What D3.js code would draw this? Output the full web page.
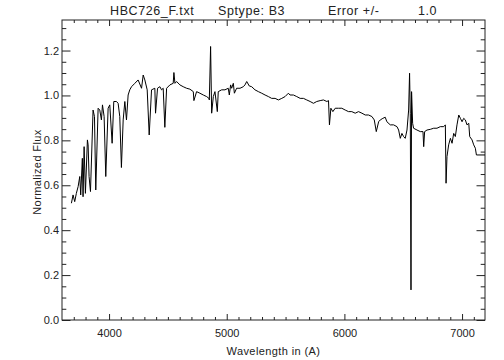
<!DOCTYPE html>
<html>
<head>
<meta charset="utf-8">
<script src="https://cdn.jsdelivr.net/npm/d3@7"></script>
<style>
  body { margin: 0; background: #fff; }
  text { font-family: "Liberation Sans", Arial, sans-serif; fill: #222; }
</style>
</head>
<body>
<div id="chart"></div>
<script>
// spectrum: wavelength (A) and normalized flux
const wavelength = [
  3680, 3694, 3708, 3722, 3737, 3751, 3759, 3773, 3779, 3788, 3799, 3816, 3822, 3830, 3842,
  3864, 3876, 3887, 3907, 3921, 3935, 3944, 3958, 3972, 3992, 4006, 4026, 4040, 4063, 4077,
  4091, 4105, 4120, 4134, 4148, 4162, 4176, 4191, 4219, 4247, 4276, 4290, 4304, 4324, 4341,
  4361, 4389, 4395, 4412, 4432, 4446, 4460, 4474, 4489, 4517, 4545, 4551, 4560, 4574, 4602,
  4630, 4659, 4687, 4716, 4721, 4744, 4772, 4801, 4829, 4849, 4852, 4863, 4872, 4886, 4900,
  4920, 4928, 4957, 4985, 5013, 5022, 5033, 5042, 5056, 5065, 5084, 5113, 5141, 5155, 5170,
  5192, 5212, 5240, 5269, 5297, 5326, 5354, 5382, 5411, 5439, 5468, 5496, 5524, 5538, 5567,
  5595, 5624, 5652, 5680, 5709, 5737, 5765, 5794, 5822, 5851, 5865, 5873, 5885, 5902, 5922,
  5950, 5978, 6007, 6035, 6063, 6092, 6120, 6149, 6177, 6205, 6234, 6254, 6271, 6291, 6305,
  6327, 6347, 6361, 6390, 6418, 6447, 6461, 6475, 6489, 6503, 6517, 6532, 6546, 6554, 6560,
  6566, 6571, 6580, 6588, 6617, 6645, 6668, 6674, 6682, 6702, 6730, 6759, 6787, 6815, 6844,
  6858, 6864, 6872, 6886, 6901, 6915, 6929, 6943, 6957, 6972, 6986, 7000, 7014, 7028, 7042,
  7057, 7065, 7085, 7099, 7113, 7122, 7195
];
const flux = [
  0.520, 0.557, 0.527, 0.564, 0.594, 0.639, 0.557, 0.720, 0.549, 0.772, 0.564, 0.802, 0.780, 0.639, 0.572,
  0.935, 0.906, 0.579, 0.943, 0.935, 0.891, 0.958, 0.906, 0.639, 0.943, 0.958, 0.787, 0.973, 0.973, 0.965,
  0.906, 0.679, 0.891, 0.973, 0.891, 1.002, 1.025, 1.039, 1.054, 1.069, 1.032, 1.091, 1.069, 1.025, 0.824,
  1.025, 1.032, 0.921, 1.032, 1.039, 1.025, 1.032, 0.858, 1.032, 1.047, 1.054, 1.102, 1.054, 1.062, 1.047,
  1.039, 1.032, 1.028, 1.017, 0.977, 1.017, 1.010, 1.002, 0.995, 0.987, 0.980, 1.218, 0.921, 0.995, 1.017,
  0.928, 1.017, 1.025, 1.025, 1.032, 1.002, 1.047, 1.032, 1.054, 1.010, 1.032, 1.032, 1.039, 1.047, 1.062,
  1.042, 1.039, 1.025, 1.017, 1.010, 1.002, 0.995, 0.987, 0.987, 0.980, 0.987, 0.995, 1.010, 1.002, 1.002,
  0.995, 0.987, 0.987, 0.980, 0.973, 0.965, 0.973, 0.977, 0.980, 0.973, 0.977, 0.869, 0.943, 0.928, 0.943,
  0.943, 0.943, 0.935, 0.928, 0.928, 0.921, 0.928, 0.921, 0.913, 0.913, 0.906, 0.891, 0.839, 0.883, 0.891,
  0.898, 0.903, 0.883, 0.869, 0.869, 0.861, 0.846, 0.809, 0.831, 0.817, 0.809, 0.846, 0.935, 1.099, 0.921,
  0.134, 1.017, 0.876, 0.854, 0.846, 0.839, 0.839, 0.772, 0.839, 0.846, 0.849, 0.854, 0.854, 0.861, 0.861,
  0.869, 0.609, 0.728, 0.780, 0.809, 0.787, 0.831, 0.817, 0.869, 0.913, 0.898, 0.883, 0.898, 0.891, 0.869,
  0.876, 0.817, 0.802, 0.780, 0.765, 0.735, 0.735
];

const xTicks = [4000, 5000, 6000, 7000];
const yTicks = [0.0, 0.2, 0.4, 0.6, 0.8, 1.0, 1.2];
const xMinor = d3.range(3700, 7200, 100).filter(v => v % 1000 !== 0);
const yMinor = d3.range(0.05, 1.34, 0.05).filter(v => Math.abs(v * 5 - Math.round(v * 5)) > 1e-6);

const titleParts = [
  {text: "HBC726_F.txt", x: 110},
  {text: "Sptype: B3", x: 218},
  {text: "Error +/-", x: 328},
  {text: "1.0", x: 418}
];

const margin = {top: 20, right: 19, bottom: 40, left: 62};
const width = 504 - margin.left - margin.right;
const height = 360 - margin.top - margin.bottom;

const svg = d3.select("#chart").append("svg")
    .attr("width", 504)
    .attr("height", 360);

const g = svg.append("g")
    .attr("transform", `translate(${margin.left},${margin.top})`);

const x = d3.scaleLinear().domain([3600, 7195]).range([0, width]);
const y = d3.scaleLinear().domain([0, 1.336]).range([height, 0]);

// ticks point inwards on all four sides, IDL style
function drawAxis(axisFn, scale, values, size, labels, transform) {
    const ax = g.append("g").attr("class", "axis").attr("transform", transform);
    ax.call(axisFn(scale).tickValues(values).tickSize(-size)
        .tickFormat(labels ? labels : ""));
    ax.select(".domain").remove();
    ax.selectAll("line").attr("stroke", "#222");
    return ax;
}

const fmtY = d3.format(".1f");
const bottom = drawAxis(d3.axisBottom, x, xTicks, 6, d3.format("d"), `translate(0,${height})`);
bottom.selectAll("text").attr("dy", "0").attr("y", 17).style("font-size", "11px");
drawAxis(d3.axisBottom, x, xMinor, 3, null, `translate(0,${height})`);
drawAxis(d3.axisTop, x, xTicks, 6, null, "translate(0,0)");
drawAxis(d3.axisTop, x, xMinor, 3, null, "translate(0,0)");

const left = drawAxis(d3.axisLeft, y, yTicks, 8.5, fmtY, "translate(0,0)");
left.selectAll("text").attr("x", -3).style("font-size", "11px");
drawAxis(d3.axisLeft, y, yMinor, 4.3, null, "translate(0,0)");
drawAxis(d3.axisRight, y, yTicks, 8.5, null, `translate(${width},0)`);
drawAxis(d3.axisRight, y, yMinor, 4.3, null, `translate(${width},0)`);

g.append("rect")
    .attr("width", width)
    .attr("height", height)
    .attr("fill", "none")
    .attr("stroke", "#222")
    .attr("stroke-width", 1);

const points = wavelength.map((w, i) => [w, flux[i]]);

g.append("path")
    .datum(points)
    .attr("fill", "none")
    .attr("stroke", "#000")
    .attr("stroke-width", 1)
    .attr("stroke-linejoin", "round")
    .attr("d", d3.line().x(d => x(d[0])).y(d => y(d[1])));

svg.selectAll(".title")
    .data(titleParts)
    .enter()
    .append("text")
    .attr("class", "title")
    .attr("x", d => d.x)
    .attr("y", 15)
    .style("font-size", "12.5px")
    .style("letter-spacing", "0.6px")
    .text(d => d.text);

svg.append("text")
    .attr("x", margin.left + width / 2)
    .attr("y", 355)
    .attr("text-anchor", "middle")
    .style("font-size", "11px")
    .style("letter-spacing", "0.4px")
    .text("Wavelength in (A)");

svg.append("text")
    .attr("transform", `translate(41, 172)rotate(270)`)
    .attr("text-anchor", "middle")
    .style("font-size", "11px")
    .style("letter-spacing", "0.4px")
    .text("Normalized Flux");
</script>
</body>
</html>
